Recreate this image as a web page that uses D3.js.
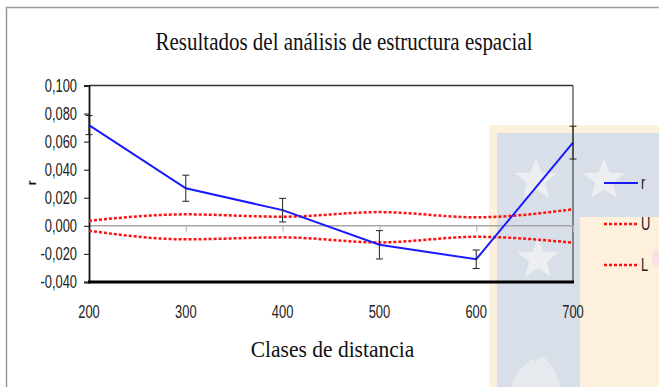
<!DOCTYPE html>
<html>
<head>
<meta charset="utf-8">
<script src="https://cdn.jsdelivr.net/npm/d3@7"></script>
<style>
  html, body { margin: 0; padding: 0; background: #fff; }
  svg { display: block; }
</style>
</head>
<body>
<svg id="chart" width="659" height="387"></svg>
<script>
// Distance classes (x axis)
const distances = [200, 300, 400, 500, 600, 700];
// Correlation coefficient r per distance class
const rValues = [0.0718, 0.0268, 0.0112, -0.0135, -0.0238, 0.0593];
// Half-width of the r error bars
const rErrors = [0.0068, 0.0093, 0.0084, 0.0101, 0.0066, 0.0117];
// Upper (U) and lower (L) confidence limits
const upperValues = [0.0036, 0.0082, 0.0065, 0.0098, 0.0061, 0.0118];
const lowerValues = [-0.0035, -0.0096, -0.0082, -0.0118, -0.0078, -0.0120];
// Y tick values and their labels
const yTicks = [0.100, 0.080, 0.060, 0.040, 0.020, 0.000, -0.020, -0.040];
const yTickLabels = ["0,100", "0,080", "0,060", "0,040", "0,020", "0,000", "-0,020", "-0,040"];
const xTickLabels = ["200", "300", "400", "500", "600", "700"];

const svg = d3.select("#chart");
const sans = "'Liberation Sans', Arial, sans-serif";
const serif = "'Liberation Serif', 'Times New Roman', serif";
// condensed, slightly tall glyphs for axis numbers
const squeeze = "scale(0.86,1.2)";

const plot = { left: 89, right: 573, top: 85.5, bottom: 282 };

const x = d3.scaleLinear().domain([200, 700]).range([plot.left, plot.right]);
const y = d3.scaleLinear().domain([-0.040, 0.100]).range([plot.bottom, plot.top]);

// Background emblem on the right side
const wm = svg.append("g");
wm.append("rect").attr("x", 489).attr("y", 125).attr("width", 170).attr("height", 262).attr("fill", "#fdf0dc");
wm.append("rect").attr("x", 497).attr("y", 133).attr("width", 162).attr("height", 84).attr("fill", "#d9dfe8");
wm.append("rect").attr("x", 497).attr("y", 217).attr("width", 83).attr("height", 170).attr("fill", "#d9dfe8");
const star = (cx, cy, R) => {
  const pts = [];
  for (let i = 0; i < 10; i++) {
    const rr = i % 2 === 0 ? R : R * 0.42;
    const a = -Math.PI / 2 + i * Math.PI / 5;
    pts.push([cx + rr * Math.cos(a), cy + rr * Math.sin(a)]);
  }
  return "M" + pts.map(p => p.join(",")).join("L") + "Z";
};
[[536, 180], [604, 180], [538, 259]].forEach(([cx, cy]) => {
  wm.append("path").attr("d", star(cx, cy, 22)).attr("fill", "#eceef2");
});
// flame-like shape at the bottom of the emblem
wm.append("path").attr("d", "M512,387 Q514,372 526,364 Q534,356 536,362 Q542,352 548,362 Q558,372 560,387 Z")
  .attr("fill", "#e6e9ee");
wm.append("ellipse").attr("cx", 656).attr("cy", 258).attr("rx", 4).attr("ry", 9).attr("fill", "#f8e0e3");

// Outer chart frame
svg.append("path").attr("d", "M6.5,387V7.5H659").attr("fill", "none").attr("stroke", "#9a9a9a").attr("stroke-width", 1.5);

// Title
svg.append("text").attr("transform", "translate(344,50) scale(1,1.15)").attr("text-anchor", "middle")
  .attr("font-family", serif).attr("font-size", 21).attr("fill", "#111")
  .text("Resultados del análisis de estructura espacial");

// Plot frame: top and right thin, left medium, bottom heavy
svg.append("line").attr("x1", plot.left).attr("x2", plot.right).attr("y1", plot.top).attr("y2", plot.top)
  .attr("stroke", "#333").attr("stroke-width", 1.5);
svg.append("line").attr("x1", plot.right).attr("x2", plot.right).attr("y1", plot.top).attr("y2", plot.bottom)
  .attr("stroke", "#444").attr("stroke-width", 1.2);

// Zero line with category ticks
svg.append("line").attr("x1", plot.left).attr("x2", plot.right).attr("y1", y(0)).attr("y2", y(0))
  .attr("stroke", "#a6a6a6").attr("stroke-width", 1.5);
const zeroAxis = svg.append("g").attr("transform", `translate(0,${y(0)})`)
  .call(d3.axisBottom(x).tickValues(distances).tickSize(6).tickFormat(""));
zeroAxis.select(".domain").remove();
zeroAxis.selectAll(".tick line").attr("stroke", "#bdbdbd").attr("stroke-width", 1.2);

// Left axis
const yAxis = svg.append("g").attr("transform", `translate(${plot.left},0)`)
  .call(d3.axisLeft(y).tickValues(yTicks).tickSize(5).tickFormat(""));
yAxis.select(".domain").attr("stroke", "#111").attr("stroke-width", 1.8);
yAxis.selectAll(".tick line").attr("stroke", "#333").attr("stroke-width", 1.2);

// Bottom axis line
svg.append("line").attr("x1", plot.left - 1).attr("x2", plot.right + 1).attr("y1", plot.bottom).attr("y2", plot.bottom)
  .attr("stroke", "#000").attr("stroke-width", 3);

// Y tick labels
svg.append("g").selectAll("text").data(yTicks).join("text")
  .attr("transform", d => `translate(77,${y(d) + 6.4}) ${squeeze}`)
  .attr("text-anchor", "end").attr("font-family", sans).attr("font-size", 15).attr("fill", "#222")
  .text((d, i) => yTickLabels[i]);

// X tick labels
svg.append("g").selectAll("text").data(distances).join("text")
  .attr("transform", d => `translate(${x(d)},318) ${squeeze}`)
  .attr("text-anchor", "middle").attr("font-family", sans).attr("font-size", 15).attr("fill", "#222")
  .text((d, i) => xTickLabels[i]);

// Y axis title
svg.append("text").attr("transform", "translate(36,183) rotate(-90)")
  .attr("text-anchor", "middle").attr("font-family", sans).attr("font-weight", "bold")
  .attr("font-size", 12).attr("fill", "#111").text("r");

// X axis title
svg.append("text").attr("transform", "translate(332.5,357) scale(1,1.1)").attr("text-anchor", "middle")
  .attr("font-family", serif).attr("font-size", 21.5).attr("fill", "#111")
  .text("Clases de distancia");

// Confidence limits (smoothed dotted red)
const smooth = d3.line().x((d, i) => x(distances[i])).y(d => y(d)).curve(d3.curveMonotoneX);
[upperValues, lowerValues].forEach(vals => {
  svg.append("path").attr("d", smooth(vals)).attr("fill", "none")
    .attr("stroke", "#ff1010").attr("stroke-width", 2.5).attr("stroke-dasharray", "3,2");
});

// r line
const straight = d3.line().x((d, i) => x(distances[i])).y(d => y(d));
svg.append("path").attr("d", straight(rValues)).attr("fill", "none")
  .attr("stroke", "#1a1aff").attr("stroke-width", 2);

// Error bars on r
const eb = svg.append("g").attr("stroke", "#222").attr("stroke-width", 1);
distances.forEach((dv, i) => {
  const cx = x(dv), hi = y(rValues[i] + rErrors[i]), lo = y(rValues[i] - rErrors[i]);
  eb.append("line").attr("x1", cx).attr("x2", cx).attr("y1", hi).attr("y2", lo);
  eb.append("line").attr("x1", cx - 3.5).attr("x2", cx + 3.5).attr("y1", hi).attr("y2", hi);
  eb.append("line").attr("x1", cx - 3.5).attr("x2", cx + 3.5).attr("y1", lo).attr("y2", lo);
});

// Legend
const legendItems = [
  { label: "r", color: "#1a1aff", dash: null, w: 2, yPos: 183 },
  { label: "U", color: "#ff1010", dash: "3,2", w: 2.5, yPos: 224 },
  { label: "L", color: "#ff1010", dash: "3,2", w: 2.5, yPos: 265 }
];
const lg = svg.append("g");
legendItems.forEach(it => {
  lg.append("line").attr("x1", 604).attr("x2", 638).attr("y1", it.yPos).attr("y2", it.yPos)
    .attr("stroke", it.color).attr("stroke-width", it.w).attr("stroke-dasharray", it.dash);
  lg.append("text").attr("transform", `translate(641,${it.yPos + 6.4}) ${squeeze}`)
    .attr("font-family", sans).attr("font-size", 15).attr("fill", "#222").text(it.label);
});
</script>
</body>
</html>
